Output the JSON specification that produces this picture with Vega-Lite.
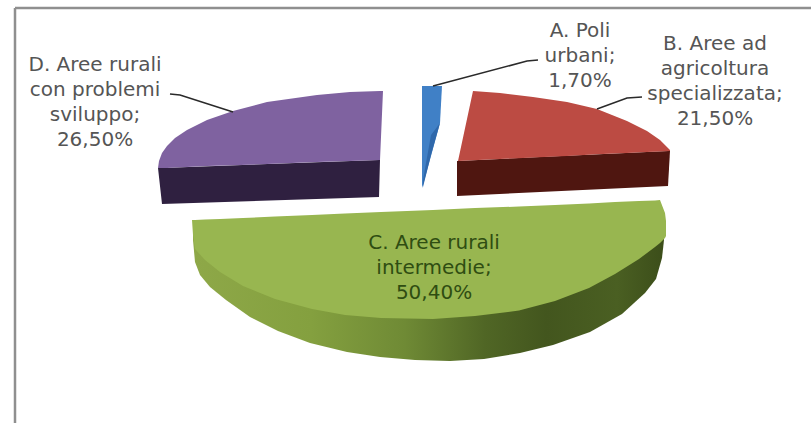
{
"$schema":"https://vega.github.io/schema/vega-lite/v6.json",
"width":811,"height":423,
"autosize":{"type":"fit","contains":"padding"},
"padding":0,
"background":"#ffffff",
"config":{"view":{"stroke":null}},
"resolve":{"scale":{"color":"independent"}},
"datasets":{
"frame":[{"part":"top","x":15,"y":8},{"part":"top","x":811,"y":8},{"part":"left","x":15,"y":8},{"part":"left","x":15,"y":423}],
"shapes":[
{"part":"C side","x":193,"y":225,"y2":240},{"part":"C side","x":195,"y":225,"y2":262},{"part":"C side","x":200,"y":225,"y2":275},{"part":"C side","x":210,"y":225,"y2":287},{"part":"C side","x":226,"y":225,"y2":300},{"part":"C side","x":250,"y":225,"y2":317},{"part":"C side","x":278,"y":225,"y2":331},{"part":"C side","x":310,"y":225,"y2":343},{"part":"C side","x":347,"y":225,"y2":352},{"part":"C side","x":380,"y":225,"y2":357},{"part":"C side","x":415,"y":225,"y2":360},{"part":"C side","x":450,"y":225,"y2":361},{"part":"C side","x":484,"y":225,"y2":359},{"part":"C side","x":520,"y":225,"y2":353},{"part":"C side","x":553,"y":225,"y2":345},{"part":"C side","x":590,"y":225,"y2":332},{"part":"C side","x":622,"y":225,"y2":314},{"part":"C side","x":645,"y":225,"y2":293},{"part":"C side","x":656,"y":225,"y2":279},{"part":"C side","x":662,"y":225,"y2":258},{"part":"C side","x":664,"y":225,"y2":240},
{"part":"C top","x":192,"y":220,"y2":220},{"part":"C top","x":193,"y":220,"y2":235},{"part":"C top","x":195,"y":220,"y2":249},{"part":"C top","x":205,"y":219.5,"y2":260},{"part":"C top","x":220,"y":219,"y2":272},{"part":"C top","x":243,"y":218,"y2":286},{"part":"C top","x":275,"y":216.5,"y2":299},{"part":"C top","x":312,"y":215,"y2":309},{"part":"C top","x":345,"y":213.5,"y2":315},{"part":"C top","x":381,"y":212,"y2":318},{"part":"C top","x":433,"y":210,"y2":319},{"part":"C top","x":475,"y":208,"y2":316},{"part":"C top","x":519,"y":206.5,"y2":310.5},{"part":"C top","x":555,"y":205,"y2":301},{"part":"C top","x":589,"y":203.5,"y2":288},{"part":"C top","x":615,"y":202,"y2":274},{"part":"C top","x":639,"y":201,"y2":259},{"part":"C top","x":655,"y":200.5,"y2":247},{"part":"C top","x":660,"y":200,"y2":243},{"part":"C top","x":665,"y":213,"y2":238},{"part":"C top","x":666,"y":221,"y2":236},
{"part":"D side","x":158,"y":168,"y2":168},{"part":"D side","x":162,"y":168,"y2":204},{"part":"D side","x":379,"y":160,"y2":197},{"part":"D side","x":380,"y":160,"y2":160},
{"part":"D top","x":158,"y":168,"y2":168},{"part":"D top","x":159,"y":161,"y2":168},{"part":"D top","x":162,"y":153,"y2":168},{"part":"D top","x":167,"y":146,"y2":168},{"part":"D top","x":175,"y":138,"y2":167.4},{"part":"D top","x":187,"y":130,"y2":167},{"part":"D top","x":207,"y":120,"y2":166},{"part":"D top","x":233,"y":111,"y2":165.3},{"part":"D top","x":267,"y":102,"y2":164},{"part":"D top","x":317,"y":95,"y2":162},{"part":"D top","x":350,"y":92,"y2":161},{"part":"D top","x":380,"y":91,"y2":160},{"part":"D top","x":383,"y":91,"y2":91},
{"part":"B side","x":457,"y":161,"y2":196},{"part":"B side","x":668,"y":151,"y2":186},{"part":"B side","x":670,"y":151,"y2":151},
{"part":"B top","x":458,"y":161,"y2":161},{"part":"B top","x":473,"y":91,"y2":160.3},{"part":"B top","x":500,"y":93,"y2":159},{"part":"B top","x":533,"y":97,"y2":157.5},{"part":"B top","x":567,"y":102,"y2":156},{"part":"B top","x":597,"y":109,"y2":154.3},{"part":"B top","x":627,"y":121,"y2":153},{"part":"B top","x":647,"y":131,"y2":152},{"part":"B top","x":660,"y":140,"y2":151.5},{"part":"B top","x":670,"y":150,"y2":151},
{"part":"A top","x":422,"y":86,"y2":188},{"part":"A top","x":423,"y":86,"y2":185},{"part":"A top","x":440,"y":86,"y2":123},{"part":"A top","x":442,"y":86,"y2":86},
{"part":"A side","x":423,"y":180,"y2":187},{"part":"A side","x":431,"y":135,"y2":155},{"part":"A side","x":440,"y":123,"y2":123}
],
"leaders":[
{"part":"D","x":170,"y":94},{"part":"D","x":180,"y":95},{"part":"D","x":233,"y":112},
{"part":"A","x":538,"y":60},{"part":"A","x":527,"y":61},{"part":"A","x":433,"y":86},
{"part":"B","x":642,"y":97},{"part":"B","x":627,"y":98},{"part":"B","x":597,"y":109}
],
"labels":[
{"label":"D. Aree rurali\ncon problemi\nsviluppo;\n26,50%","category":"D. Aree rurali con problemi sviluppo","value":26.5,"x":95,"y":65,"tone":"grey"},
{"label":"A. Poli\nurbani;\n1,70%","category":"A. Poli urbani","value":1.7,"x":580,"y":31,"tone":"grey"},
{"label":"B. Aree ad\nagricoltura\nspecializzata;\n21,50%","category":"B. Aree ad agricoltura specializzata","value":21.5,"x":715,"y":44,"tone":"grey"},
{"label":"C. Aree rurali\nintermedie;\n50,40%","category":"C. Aree rurali intermedie","value":50.4,"x":434,"y":243,"tone":"green"}
]
},
"layer":[
{"data":{"name":"frame"},
 "mark":{"type":"line","color":"#8f8f8f","strokeWidth":2.5,"clip":true},
 "encoding":{"x":{"field":"x","type":"quantitative","scale":{"domain":[0,811],"nice":false,"zero":false},"axis":null},
 "y":{"field":"y","type":"quantitative","scale":{"domain":[423,0],"nice":false,"zero":false},"axis":null},
 "detail":{"field":"part"},"order":{"field":"y"}}},
{"data":{"name":"shapes"},
 "transform":[{"filter":"datum.part==='C side'"}],
 "mark":{"type":"area","interpolate":"linear","color":{"gradient":"linear","x1":0,"y1":0,"x2":1,"y2":0,"stops":[{"offset":0,"color":"#8ea848"},{"offset":0.25,"color":"#84a03f"},{"offset":0.45,"color":"#6f8a35"},{"offset":0.62,"color":"#506625"},{"offset":0.75,"color":"#43561e"},{"offset":0.9,"color":"#4a5f22"},{"offset":1,"color":"#3c4e1a"}]}},
 "encoding":{"x":{"field":"x","type":"quantitative","scale":{"domain":[0,811],"nice":false,"zero":false},"axis":null},
 "y":{"field":"y","type":"quantitative","scale":{"domain":[423,0],"nice":false,"zero":false},"axis":null},
 "y2":{"field":"y2"}}},
{"data":{"name":"shapes"},
 "transform":[{"filter":"datum.part!=='C side'"}],
 "mark":{"type":"area","interpolate":"linear"},
 "encoding":{"x":{"field":"x","type":"quantitative","scale":{"domain":[0,811],"nice":false,"zero":false},"axis":null},
 "y":{"field":"y","type":"quantitative","scale":{"domain":[423,0],"nice":false,"zero":false},"axis":null},
 "y2":{"field":"y2"},
 "color":{"field":"part","type":"nominal","legend":null,"scale":{"domain":["C top","D side","D top","B side","B top","A top","A side"],"range":["#98b650","#2f2040","#7f62a0","#4f1610","#bc4b43","#4080c6","#2f68ab"]}}}},
{"data":{"name":"leaders"},
 "mark":{"type":"line","color":"#2a2a2a","strokeWidth":1.6},
 "encoding":{"x":{"field":"x","type":"quantitative","scale":{"domain":[0,811],"nice":false,"zero":false},"axis":null},
 "y":{"field":"y","type":"quantitative","scale":{"domain":[423,0],"nice":false,"zero":false},"axis":null},
 "detail":{"field":"part"}}},
{"data":{"name":"labels"},
 "mark":{"type":"text","font":"DejaVu Sans","fontSize":20,"lineBreak":"\n","lineHeight":25,"align":"center","baseline":"middle"},
 "encoding":{"x":{"field":"x","type":"quantitative","scale":{"domain":[0,811],"nice":false,"zero":false},"axis":null},
 "y":{"field":"y","type":"quantitative","scale":{"domain":[423,0],"nice":false,"zero":false},"axis":null},
 "text":{"field":"label"},
 "color":{"field":"tone","type":"nominal","legend":null,"scale":{"domain":["grey","green"],"range":["#555555","#2f4d12"]}}}}
]
}
